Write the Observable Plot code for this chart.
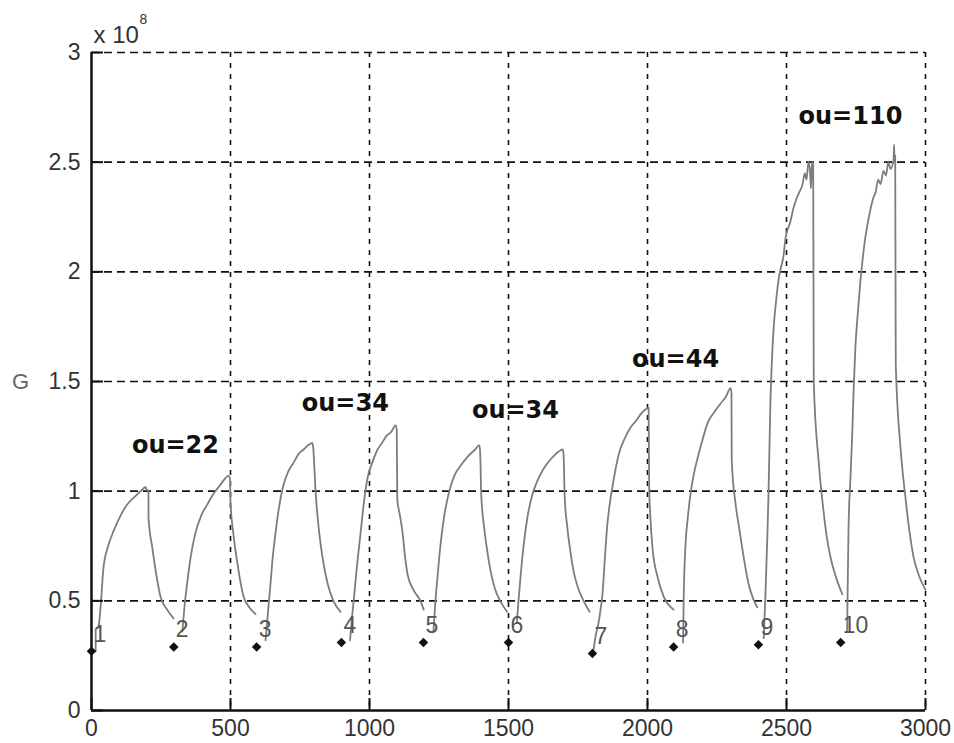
<!DOCTYPE html>
<html><head><meta charset="utf-8">
<script src="https://cdn.jsdelivr.net/npm/d3@7"></script>
<script src="https://cdn.jsdelivr.net/npm/@observablehq/plot@0.6"></script>
<style>body{margin:0;background:#fff}</style>
</head><body><div id="chart"></div>
<script>
const xTicks = [0, 500, 1000, 1500, 2000, 2500, 3000];
const yTicks = [0, 0.5, 1, 1.5, 2, 2.5, 3];

// [time, G (x 1e8)], one array per cycle
const cycle1 = [[15,0.27],[15,0.37],[25,0.38],[32,0.46],[43,0.65],[60,0.75],[80,0.82],[105,0.89],[129,0.94],[160,0.98],[185,1.01],[194,1.02],[197,1.01],[205,1.0],[205,0.88],[219,0.74],[233,0.62],[248,0.52],[272,0.46],[295,0.42]];
const cycle2 = [[327,0.36],[335,0.48],[345,0.59],[358,0.71],[374,0.81],[395,0.89],[417,0.94],[440,0.99],[464,1.03],[493,1.07],[498,1.06],[500,0.95],[510,0.81],[525,0.67],[547,0.52],[568,0.47],[590,0.44]];
const cycle3 = [[626,0.32],[635,0.45],[644,0.58],[652,0.70],[662,0.81],[675,0.93],[691,1.03],[708,1.09],[727,1.13],[745,1.17],[763,1.19],[780,1.21],[795,1.22],[798,1.19],[806,1.0],[815,0.86],[824,0.76],[836,0.66],[849,0.58],[870,0.50],[896,0.45]];
const cycle4 = [[930,0.32],[936,0.41],[943,0.50],[955,0.66],[968,0.81],[980,0.95],[993,1.06],[1010,1.13],[1029,1.19],[1045,1.22],[1060,1.25],[1078,1.27],[1094,1.30],[1098,1.28],[1100,0.96],[1108,0.90],[1119,0.81],[1128,0.70],[1137,0.62],[1158,0.55],[1183,0.50],[1195,0.46]];
const cycle5 = [[1230,0.36],[1236,0.48],[1244,0.60],[1255,0.75],[1268,0.88],[1285,0.99],[1305,1.07],[1330,1.12],[1355,1.16],[1380,1.19],[1395,1.21],[1398,1.18],[1402,0.98],[1412,0.84],[1422,0.74],[1435,0.64],[1450,0.56],[1470,0.50],[1495,0.45]];
const cycle6 = [[1530,0.40],[1536,0.50],[1544,0.62],[1555,0.76],[1568,0.88],[1585,0.98],[1605,1.05],[1630,1.11],[1655,1.15],[1680,1.18],[1695,1.19],[1698,1.17],[1702,0.98],[1712,0.83],[1722,0.73],[1735,0.63],[1750,0.56],[1770,0.50],[1792,0.45]];
const cycle7 = [[1805,0.27],[1815,0.35],[1824,0.40],[1830,0.45],[1838,0.53],[1846,0.68],[1855,0.84],[1864,0.94],[1874,1.02],[1885,1.10],[1897,1.17],[1918,1.24],[1939,1.29],[1958,1.32],[1975,1.35],[1990,1.37],[2004,1.38],[2006,1.02],[2010,0.89],[2018,0.74],[2036,0.61],[2058,0.52],[2094,0.46]];
const cycle8 = [[2128,0.31],[2130,0.50],[2137,0.76],[2145,0.88],[2155,0.99],[2167,1.08],[2180,1.15],[2197,1.23],[2216,1.31],[2240,1.36],[2263,1.40],[2282,1.43],[2299,1.47],[2302,1.45],[2303,1.14],[2317,0.94],[2330,0.83],[2342,0.73],[2363,0.58],[2380,0.51],[2395,0.47]];
const cycle9 = [[2418,0.33],[2424,0.52],[2430,0.75],[2435,0.97],[2442,1.40],[2447,1.58],[2453,1.73],[2462,1.86],[2471,1.96],[2480,2.02],[2489,2.07],[2496,2.15],[2503,2.19],[2512,2.22],[2525,2.29],[2535,2.33],[2545,2.36],[2558,2.40],[2566,2.45],[2572,2.42],[2579,2.50],[2584,2.47],[2588,2.38],[2592,2.50],[2596,2.49],[2598,1.50],[2616,1.13],[2634,0.90],[2645,0.79],[2658,0.70],[2680,0.60],[2701,0.53]];
const cycle10 = [[2718,0.36],[2720,0.55],[2723,0.82],[2730,1.06],[2737,1.28],[2742,1.48],[2748,1.66],[2757,1.82],[2766,1.96],[2775,2.07],[2784,2.16],[2798,2.26],[2813,2.34],[2820,2.36],[2830,2.42],[2838,2.40],[2849,2.46],[2858,2.44],[2866,2.50],[2874,2.47],[2885,2.51],[2887,2.58],[2889,2.50],[2891,2.53],[2893,1.58],[2910,1.20],[2928,0.97],[2942,0.82],[2957,0.70],[2978,0.61],[3000,0.55]];
const cycles = [cycle1, cycle2, cycle3, cycle4, cycle5, cycle6, cycle7, cycle8, cycle9, cycle10];

const markerTimes = [0, 296, 594, 899, 1194, 1500, 1802, 2094, 2399, 2695];
const markerValues = [0.27, 0.29, 0.29, 0.31, 0.31, 0.31, 0.26, 0.29, 0.30, 0.31];
const markerLabels = ["1","2","3","4","5","6","7","8","9","10"];

const noteLabels = ["ou=22", "ou=34", "ou=34", "ou=44", "ou=110"];
const noteTimes = [302, 913, 1525, 2101, 2730];
const noteValues = [1.21, 1.40, 1.37, 1.60, 2.71];

const series = cycles.flatMap((c, i) => c.map(([t, v]) => ({t, v, cycle: i + 1})));
const markers = markerTimes.map((t, i) => ({t, v: markerValues[i], label: markerLabels[i]}));
const notes = noteLabels.map((label, i) => ({t: noteTimes[i], v: noteValues[i], label}));

const chart = Plot.plot({
  width: 954, height: 743,
  marginTop: 52, marginRight: 29, marginBottom: 33, marginLeft: 91,
  x: {domain: [0, 3000]},
  y: {domain: [0, 3]},
  style: {fontFamily: "'Liberation Sans', Arial, sans-serif", fontSize: "23px", color: "#222", background: "#fff"},
  marks: [
    Plot.ruleY(yTicks.filter(d => d > 0), {stroke: "#111", strokeWidth: 1.6, strokeDasharray: "8,5"}),
    Plot.ruleX(xTicks.filter(d => d > 0), {stroke: "#111", strokeWidth: 1.6, strokeDasharray: "5,6"}),
    Plot.line(series, {x: "t", y: "v", z: "cycle", stroke: "#7d7d7d", strokeWidth: 1.8, curve: "monotone-x"}),
    Plot.dot(markers, {x: "t", y: "v", symbol: "square", rotate: 45, r: 3.8, fill: "#111"}),
    Plot.text(markers, {x: "t", y: "v", text: "label", textAnchor: "start", dx: 2, dy: -17, fontSize: 23, fill: "#555"}),
    Plot.text(notes, {x: "t", y: "v", text: "label", fontFamily: "'DejaVu Sans', sans-serif", fontWeight: "bold", fontSize: 24, fill: "#111"}),
    Plot.tickX(xTicks, {x: d => d, insetTop: 646, stroke: "#111", strokeWidth: 2}),
    Plot.tickY(yTicks, {y: d => d, insetRight: 822, stroke: "#111", strokeWidth: 2}),
    Plot.ruleY([0], {stroke: "#111", strokeWidth: 2.5}),
    Plot.ruleX([0], {stroke: "#111", strokeWidth: 2.5}),
    Plot.axisX(xTicks, {tickSize: 0, tickPadding: 9, fontSize: 23, label: null, tickFormat: d => String(d), fill: "#333"}),
    Plot.axisY(yTicks, {tickSize: 0, tickPadding: 11, fontSize: 23, label: null, tickFormat: d => String(d), fill: "#333"}),
    Plot.text(["x 10"], {frameAnchor: "top-left", text: d => d, textAnchor: "start", lineAnchor: "bottom", dx: 2, dy: -10, fontSize: 24, fill: "#333"}),
    Plot.text(["8"], {frameAnchor: "top-left", text: d => d, textAnchor: "start", lineAnchor: "bottom", dx: 48, dy: -29, fontSize: 14, fill: "#333"}),
    Plot.text(["G"], {frameAnchor: "left", text: d => d, textAnchor: "middle", dx: -71, fontSize: 22, fill: "#666"})
  ]
});
document.getElementById("chart").appendChild(chart);
</script>
</body></html>
